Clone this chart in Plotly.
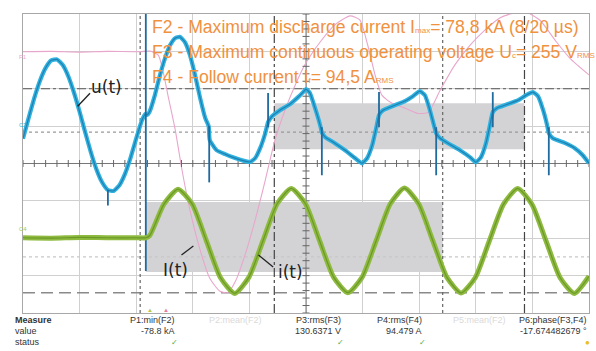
import plotly.graph_objects as go

# ---------------- data (time in ms, 10 ms/div) ----------------
# u(t) - voltage across the device [V]
t_u = [0, 1, 2, 3, 4, 5, 6, 7, 8, 9, 10, 11, 12, 13, 14, 15, 16, 17, 18, 19, 20, 21, 21.6,
       21.9, 22.4, 23.3, 24.2, 25.1, 26.0, 26.9, 27.7, 28.6, 29.5, 30.4, 31.3, 32.2, 32.8,
       33.0, 34.2, 35.7, 37.1, 38.7, 40.1, 41.0, 41.9, 42.8, 43.3, 44.0, 45.4, 47.2, 48.6,
       49.5, 50.0, 50.7, 51.6, 52.5, 52.8, 53.4, 55.1, 56.9, 58.7, 59.9, 60.8, 61.7, 62.4,
       62.9, 63.6, 65.7, 67.5, 68.9, 70.1, 71.0, 71.9, 72.6, 73.0, 73.7, 75.4, 77.2, 79.0,
       80.0, 80.9, 81.8, 82.5, 83.0, 83.7, 85.7, 87.5, 88.9, 90.1, 91.0, 91.9, 92.6, 92.9,
       93.6, 95.8, 97.5, 98.9, 100.0]
u_v = [-72, 39, 146, 238, 307, 347, 352, 323, 262, 175, 72, -39, -146, -238, -307, -347, -352,
       -323, -262, -175, -72, 25, 60,
       55, 75, 161, 268, 359, 429, 466, 473, 445, 375, 268, 145, 38, -5,
       -80, -134, -155, -172, -188, -197, -177, -123, -43, 16, 48, 80, 113, 150,
       177, 193, 172, 91, 0, -38, -64, -96, -134, -177, -204, -177, -107, -16,
       54, 80, 107, 129, 155, 182, 161, 80, 0, -43, -70, -102, -134, -172,
       -198, -172, -96, 0, 70, 91, 113, 134, 161, 177, 155, 80, 0, -43,
       -70, -96, -123, -161, -204]

# switching spikes on u(t) [ms, V, V]
spike_t = [15.0, 21.7, 32.9, 43.3, 52.8, 62.9, 73.0, 83.0, 92.9]
spike_lo = [-347, -780, -306, -11, -268, -11, -268, -11, -268]
spike_hi = [-430, 800, -5, 172, -11, 177, -11, 177, -11]

# i(t) - follow current [A]
t_i = [0, 5, 10, 15, 20, 21.7, 22.4, 24.9, 27.4, 29.9, 32.4, 34.9, 37.4, 39.9, 42.4, 44.9,
       47.4, 49.9, 52.4, 54.9, 57.4, 59.9, 62.4, 64.9, 67.4, 69.9, 72.4, 74.9, 77.4, 79.9,
       82.4, 84.9, 87.4, 89.9, 92.4, 94.9, 97.4, 100]
i_a = [8, 7, 9, 8, 8, 8, 14, 98, 138, 98, 0, -99, -141, -98, 0, 99, 140, 99, 0, -98, -139,
       -98, 0, 99, 141, 99, 0, -98, -140, -99, 0, 98, 140, 98, 0, -99, -141, -95]

# F1 math trace [div]
t_f1 = [0, 5, 10, 15, 20.7, 22.4, 23.9, 24.7, 25.6, 26.9, 28.1, 29.5, 31.3, 33.0, 34.8, 36.2,
        37.6, 39.2, 41.0, 42.8, 44.5, 46.3, 48.1, 49.8, 52.5, 55.1, 57.8, 59.5, 60.9, 62.2,
        63.4, 65.2, 67.5, 69.8, 71.6, 73.7, 76.3, 79.0, 81.6, 84.3, 86.9, 88.7, 91.3, 94.0,
        96.6, 100]
f1 = [2.99, 3.0, 2.98, 3.0, 2.99, 3.01, 2.90, 2.50, 1.83, 0.90, -0.18, -1.25, -2.32, -3.07,
      -3.42, -3.45, -3.13, -2.46, -1.52, -0.45, 0.62, 1.43, 2.10, 2.64, 3.25, 3.71, 3.95,
      3.84, 3.17, 2.37, 1.83, 1.61, 1.48, 1.34, 1.37, 1.96, 2.64, 3.17, 3.57, 3.90, 4.03,
      4.06, 3.84, 3.30, 2.82, 2.37]

# measurement table
meas_names = ["P1:min(F2)", "P2:mean(F2)", "P3:rms(F3)", "P4:rms(F4)", "P5:mean(F2)", "P6:phase(F3,F4)"]
meas_values = ["-78.8 kA", "", "130.6371 V", "94.479 A", "", "-17.674482679 °"]
meas_status = ["ok", "", "ok", "ok", "", "warn"]

# ---------------- figure ----------------
W, H = 596, 351
L, R, T, B = 23, 7, 14, 38
PW, PH = W - L - R, H - T - B


def px(xp):
    return (xp - L) / PW


def py(yp):
    return (H - B - yp) / PH


fig = go.Figure()

# pink F1
fig.add_trace(go.Scatter(x=t_f1, y=f1, mode="lines",
                         line=dict(color="#E9A6CC", width=1.1, shape="spline", smoothing=0.6),
                         hoverinfo="skip", showlegend=False))

# u(t)
fig.add_trace(go.Scatter(x=t_u, y=u_v, yaxis="y2", mode="lines",
                         line=dict(color="#2FB2E0", width=4.2, shape="spline", smoothing=0.45),
                         hoverinfo="skip", showlegend=False))
fig.add_trace(go.Scatter(x=t_u, y=u_v, yaxis="y2", mode="lines", opacity=0.65,
                         line=dict(color="#1A6496", width=1.2, shape="spline", smoothing=0.45),
                         hoverinfo="skip", showlegend=False))
sx, sy = [], []
for t, lo, hi in zip(spike_t, spike_lo, spike_hi):
    sx += [t, t, None]
    sy += [lo, hi, None]
fig.add_trace(go.Scatter(x=sx, y=sy, yaxis="y2", mode="lines",
                         line=dict(color="#1F6A9E", width=1.8),
                         hoverinfo="skip", showlegend=False))

# i(t)
fig.add_trace(go.Scatter(x=t_i, y=i_a, yaxis="y3", mode="lines",
                         line=dict(color="#8DBA3F", width=5, shape="spline", smoothing=0.6),
                         hoverinfo="skip", showlegend=False))
fig.add_trace(go.Scatter(x=t_i, y=i_a, yaxis="y3", mode="lines", opacity=0.7,
                         line=dict(color="#5E8A1E", width=1.2, shape="spline", smoothing=0.6),
                         hoverinfo="skip", showlegend=False))

# minor ticks on centre axes
fig.add_trace(go.Scatter(x=[k * 2 for k in range(51)], y=[0] * 51, mode="markers",
                         marker=dict(symbol="line-ns-open", size=5, color="#666", line=dict(width=1, color="#666")),
                         hoverinfo="skip", showlegend=False))
fig.add_trace(go.Scatter(x=[50] * 41, y=[-4 + k * 0.2 for k in range(41)], mode="markers",
                         marker=dict(symbol="line-ew-open", size=5, color="#666", line=dict(width=1, color="#666")),
                         hoverinfo="skip", showlegend=False))

shapes = []
# grey measurement gates
shapes.append(dict(type="rect", xref="x", yref="y", x0=44.4, x1=88.6, y0=0.38, y1=1.61,
                   fillcolor="#D3D3D6", line=dict(width=0), layer="between"))
shapes.append(dict(type="rect", xref="x", yref="y", x0=21.7, x1=74.15, y0=-2.90, y1=-1.03,
                   fillcolor="#D3D3D6", line=dict(width=0), layer="between"))
# centre lines
shapes.append(dict(type="line", xref="x", yref="y", x0=0, x1=100, y0=0, y1=0,
                   line=dict(color="#777", width=1), layer="between"))
shapes.append(dict(type="line", xref="x", yref="y", x0=50, x1=50, y0=-4, y1=4,
                   line=dict(color="#777", width=1), layer="between"))
# cursors
shapes.append(dict(type="line", xref="x", yref="y", x0=0, x1=100, y0=2.0, y1=2.0,
                   line=dict(color="#555", width=1.2, dash="dashdot"), layer="between"))
shapes.append(dict(type="line", xref="x", yref="y", x0=0, x1=100, y0=0.84, y1=0.84,
                   line=dict(color="#999", width=1.2, dash="dot"), layer="between"))
shapes.append(dict(type="line", xref="x", yref="y", x0=0, x1=100, y0=-2.5, y1=-2.5,
                   line=dict(color="#C8C8C8", width=1.2, dash="dot"), layer="between"))
shapes.append(dict(type="line", xref="x", yref="y", x0=0, x1=100, y0=-3.46, y1=-3.46,
                   line=dict(color="#8A8A8A", width=1.5, dash="12px,6px"), layer="between"))
for xv in (20.7, 74.15):
    shapes.append(dict(type="line", xref="x", yref="y", x0=xv, x1=xv, y0=-4, y1=4,
                       line=dict(color="#666", width=1.2, dash="dot"), layer="between"))
for xv in (44.4, 88.6):
    shapes.append(dict(type="line", xref="x", yref="y", x0=xv, x1=xv, y0=-4, y1=4,
                       line=dict(color="#444", width=1.2, dash="dashdot"), layer="between"))
# label pointers
for x0, y0, x1, y1 in [(9.66, 1.53, 11.84, 1.88), (28.0, -2.45, 30.1, -2.21), (41.6, -2.45, 44.2, -2.77)]:
    shapes.append(dict(type="line", xref="x", yref="y", x0=x0, y0=y0, x1=x1, y1=y1,
                       line=dict(color="#222", width=1.3), layer="above"))

ann = []
orange = "#F0913F"
tf = dict(family="Liberation Sans, Arial, sans-serif", size=17.6, color=orange)


def sub(s):
    return '<span style="font-size:8px">' + s + '</span>'


ann.append(dict(xref="x", yref="y", x=22.4, y=3.66, xanchor="left", yanchor="middle", showarrow=False,
                text="F2 - Maximum discharge current I" + sub("max") + "= 78,8 kA (8/20 µs)", font=tf))
ann.append(dict(xref="x", yref="y", x=22.4, y=2.99, xanchor="left", yanchor="middle", showarrow=False,
                text="F3 - Maximum continuous operating voltage U" + sub("c") + "= 255 V" + sub("RMS"), font=tf))
ann.append(dict(xref="x", yref="y", x=22.4, y=2.32, xanchor="left", yanchor="middle", showarrow=False,
                text="F4 - Follow current I" + sub("f") + "= 94,5 A" + sub("RMS"), font=tf))

lf = dict(family="DejaVu Sans, sans-serif", size=17, color="#222")
ann.append(dict(xref="x", yref="y", x=14.7, y=2.04, showarrow=False, text="u(t)", font=lf))
ann.append(dict(xref="x", yref="y", x=26.9, y=-2.85, showarrow=False, text="I(t)", font=lf))
ann.append(dict(xref="x", yref="y", x=47.3, y=-2.91, showarrow=False, text="i(t)", font=lf))

# channel markers on the left
for txt, yy, col in [("F1", 52, "#E9A6CC"), ("C3", 125, "#2FAEDC"), ("C4", 234, "#A8C84A")]:
    ann.append(dict(xref="paper", yref="paper", x=px(17), y=py(yy), showarrow=False,
                    text=txt, font=dict(size=6, color=col, family="Liberation Sans")))

# trigger markers under plot
ann.append(dict(xref="paper", yref="paper", x=px(145), y=py(316), showarrow=False,
                text="▲", font=dict(size=6, color="#B9C94A")))
ann.append(dict(xref="paper", yref="paper", x=px(161), y=py(316), showarrow=False,
                text="▲", font=dict(size=6, color="#E77CA0")))

# measurement table
sf = dict(family="Liberation Sans, Arial, sans-serif", size=9, color="#333")
ann.append(dict(xref="paper", yref="paper", x=px(13), y=py(327), xanchor="left", showarrow=False,
                text="<b>Measure</b>", font=sf))
ann.append(dict(xref="paper", yref="paper", x=px(13), y=py(338), xanchor="left", showarrow=False,
                text="value", font=sf))
ann.append(dict(xref="paper", yref="paper", x=px(13), y=py(348.5), xanchor="left", showarrow=False,
                text="status", font=sf))
col_x = [176.7, 235, 342.5, 424.3, 479, 589.3]
for name, val, st, cx in zip(meas_names, meas_values, meas_status, col_x):
    if val == "":
        ann.append(dict(xref="paper", yref="paper", x=px(cx), y=py(327), xanchor="center", showarrow=False,
                        text=name, font=dict(family=sf["family"], size=9, color="#DADADA")))
        continue
    ann.append(dict(xref="paper", yref="paper", x=px(cx), y=py(327), xanchor="right", showarrow=False,
                    text=name, font=sf))
    ann.append(dict(xref="paper", yref="paper", x=px(cx), y=py(338), xanchor="right", showarrow=False,
                    text=val, font=sf))
    if st == "ok":
        ann.append(dict(xref="paper", yref="paper", x=px(cx - 2), y=py(348.5), xanchor="center", showarrow=False,
                        text="✓", font=dict(size=8, color="#4CAF50")))
    else:
        ann.append(dict(xref="paper", yref="paper", x=px(cx - 2), y=py(349), xanchor="center", showarrow=False,
                        text="●", font=dict(size=8, color="#E8C020")))

axis_common = dict(showgrid=True, gridcolor="#D0D0D0", gridwidth=1, zeroline=False,
                   showticklabels=False, ticks="", showline=True, linecolor="#A8A8A8",
                   linewidth=1, mirror=True)

fig.update_layout(
    width=W, height=H,
    margin=dict(l=L, r=R, t=T, b=B, autoexpand=False),
    paper_bgcolor="white", plot_bgcolor="white",
    xaxis=dict(range=[0, 100], dtick=10, tick0=0, **axis_common),
    yaxis=dict(range=[-4, 4], dtick=1, tick0=0, **axis_common),
    yaxis2=dict(range=[-1005, 595], overlaying="y", visible=False),
    yaxis3=dict(range=[-193.3, 606.7], overlaying="y", visible=False),
    shapes=shapes, annotations=ann, showlegend=False,
)

fig.write_html("out.html", config={"displayModeBar": False, "staticPlot": True},
               post_script="document.body.style.margin='0';document.body.style.overflow='hidden';")
